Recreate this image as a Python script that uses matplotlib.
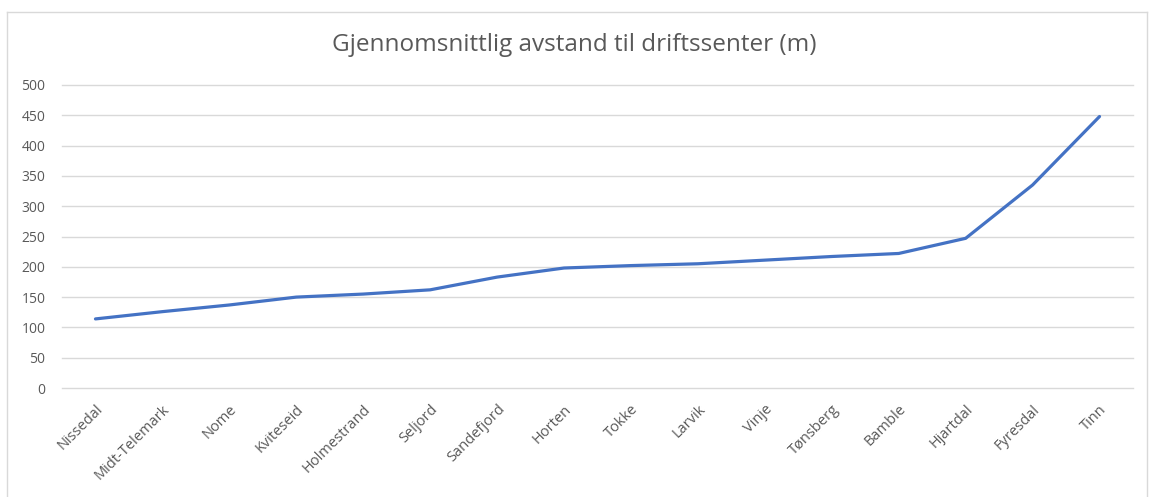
import matplotlib.pyplot as plt
import matplotlib.lines as mlines

# kommuner og gjennomsnittlig avstand (m)
kommuner = ['Nissedal', 'Midt-Telemark', 'Nome', 'Kviteseid', 'Holmestrand', 'Seljord',
            'Sandefjord', 'Horten', 'Tokke', 'Larvik', 'Vinje', 'Tønsberg', 'Bamble',
            'Hjartdal', 'Fyresdal', 'Tinn']
avstand = [114, 126, 137, 150, 155, 162, 183, 198, 202, 205, 211, 217, 222, 247, 335, 448]
yticks = [0, 50, 100, 150, 200, 250, 300, 350, 400, 450, 500]

plt.rcParams['font.family'] = ['Open Sans', 'DejaVu Sans']
grey = '#595959'

fig = plt.figure(figsize=(11.49, 4.97), dpi=100)
ax = fig.add_axes([62/1149, 1 - 388/497, (1133 - 62)/1149, (388 - 85)/497])

x = list(range(len(kommuner)))
ax.plot(x, avstand, color='#4472C4', linewidth=2.3, solid_capstyle='round')

ax.set_xlim(-0.5, len(kommuner) - 0.5)
ax.set_ylim(0, 500)
ax.set_yticks(yticks)
ax.set_yticklabels([str(v) for v in yticks], fontsize=10, color=grey)
ax.set_xticks(x)
ax.set_xticklabels(kommuner, rotation=45, ha='right', rotation_mode='anchor',
                   fontsize=10.5, color=grey)
ax.tick_params(axis='both', length=0)
ax.tick_params(axis='y', pad=12)
ax.tick_params(axis='x', pad=10)
ax.grid(axis='y', color='#D9D9D9', linewidth=1)
for gl in ax.get_ygridlines():
    gl.set_clip_on(False)
ax.set_axisbelow(True)
for s in ax.spines.values():
    s.set_visible(False)

fig.text(0.5, 1 - 45/497, 'Gjennomsnittlig avstand til driftssenter (m)',
         ha='center', va='center', fontsize=17.5, color=grey)

# ramme rundt diagrammet
bx0, bx1 = 6.5/1149, 1146.5/1149
by1 = 1 - 11.5/497
for xs, ys in [([bx0, bx1], [by1, by1]), ([bx0, bx0], [0, by1]), ([bx1, bx1], [0, by1])]:
    fig.add_artist(mlines.Line2D(xs, ys, color='#D9D9D9', linewidth=1, transform=fig.transFigure))

fig.savefig('out.png', dpi=100, facecolor='white')
